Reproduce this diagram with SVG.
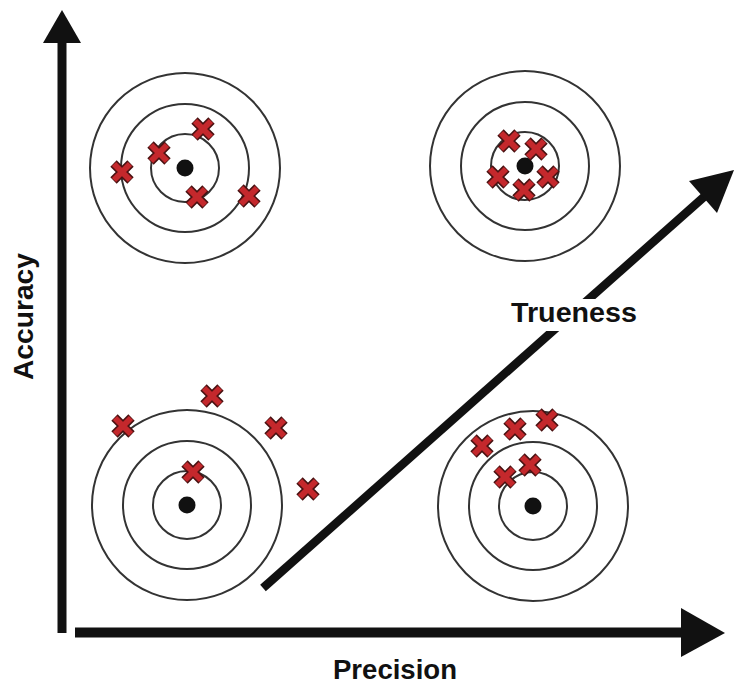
<svg xmlns="http://www.w3.org/2000/svg" xmlns:xlink="http://www.w3.org/1999/xlink" width="736" height="684" viewBox="0 0 736 684">
<style>
.ring{fill:none;stroke:#333;stroke-width:2}
.dot{fill:#111}
.shaft{stroke:#111;stroke-linecap:butt;fill:none}
.head{fill:#111}
.lbl{font-family:"Liberation Sans",Arial,sans-serif;font-weight:bold;font-size:27px;fill:#111}
</style>
<defs>
<g id="xm">
<path d="M-8.5,-8.5 L8.5,8.5 M8.5,-8.5 L-8.5,8.5" stroke="#4a1212" stroke-width="9" fill="none"/>
<path d="M-8,-8 L8,8 M8,-8 L-8,8" stroke="#c4282c" stroke-width="6" fill="none"/>
</g>
<g id="target">
<circle class="ring" r="95"/>
<circle class="ring" r="64"/>
<circle class="ring" r="34"/>
<circle class="dot" r="8.5"/>
</g>
</defs>
<rect width="736" height="684" fill="#fff"/>

<g id="connectors">
<line class="shaft" x1="62" y1="633" x2="62" y2="40" stroke-width="9"/>
<polygon class="head" points="62,10 43,43 81,43"/>
<line class="shaft" x1="75" y1="632.5" x2="683" y2="632.5" stroke-width="10"/>
<polygon class="head" points="725,633 681,608 681,657"/>
<line class="shaft" x1="263" y1="588" x2="705" y2="196" stroke-width="8.5"/>
<polygon class="head" points="734,170 689,181 717,213"/>
</g>

<g id="target-top-left">
<use xlink:href="#target" x="185" y="168"/>
<use xlink:href="#xm" x="122" y="172"/>
<use xlink:href="#xm" x="159" y="153"/>
<use xlink:href="#xm" x="203" y="129"/>
<use xlink:href="#xm" x="197" y="197"/>
<use xlink:href="#xm" x="249" y="196"/>
</g>

<g id="target-top-right">
<use xlink:href="#target" x="525" y="166"/>
<use xlink:href="#xm" x="509" y="141"/>
<use xlink:href="#xm" x="536" y="149"/>
<use xlink:href="#xm" x="498" y="177"/>
<use xlink:href="#xm" x="548" y="177"/>
<use xlink:href="#xm" x="524" y="190"/>
</g>

<g id="target-bottom-left">
<use xlink:href="#target" x="187" y="505"/>
<use xlink:href="#xm" x="123" y="426"/>
<use xlink:href="#xm" x="212" y="396"/>
<use xlink:href="#xm" x="276" y="428"/>
<use xlink:href="#xm" x="193" y="472"/>
<use xlink:href="#xm" x="308" y="489"/>
</g>

<g id="target-bottom-right">
<use xlink:href="#target" x="533" y="506"/>
<use xlink:href="#xm" x="482" y="446"/>
<use xlink:href="#xm" x="515" y="429"/>
<use xlink:href="#xm" x="547" y="420"/>
<use xlink:href="#xm" x="505" y="477"/>
<use xlink:href="#xm" x="530" y="465"/>
</g>

<g id="labels">
<text class="lbl" x="395" y="679" text-anchor="middle" textLength="124" lengthAdjust="spacingAndGlyphs">Precision</text>
<rect x="506" y="299" width="136" height="32" fill="#fff"/>
<text class="lbl" x="574" y="322" text-anchor="middle" textLength="126" lengthAdjust="spacingAndGlyphs">Trueness</text>
<text class="lbl" transform="translate(33,316.5) rotate(-90)" x="0" y="0" text-anchor="middle" textLength="127" lengthAdjust="spacingAndGlyphs">Accuracy</text>
</g>
</svg>
